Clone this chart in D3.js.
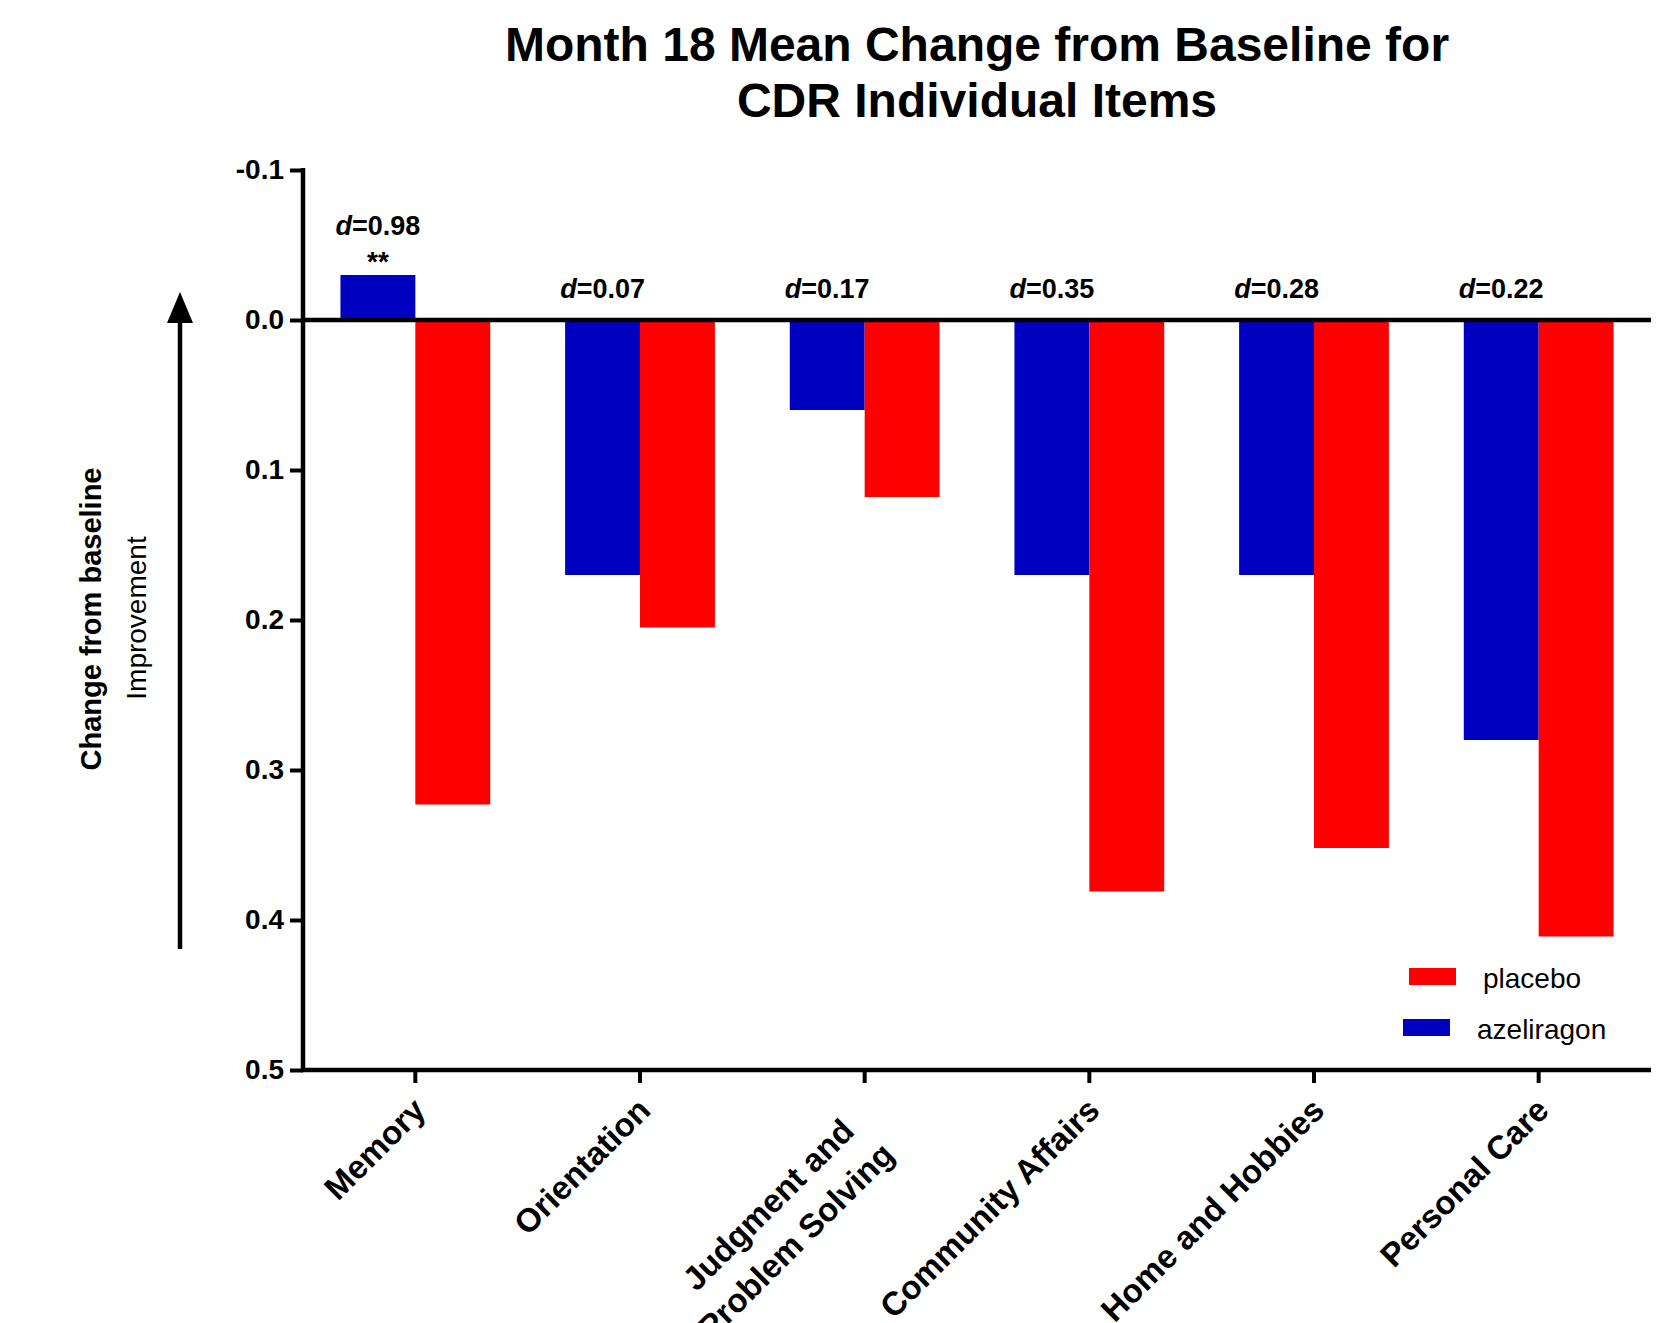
<!doctype html>
<html>
<head>
<meta charset="utf-8">
<script src="https://d3js.org/d3.v7.min.js" charset="utf-8"></script>
<style>
  body { margin: 0; background: #fff; }
  svg { font-family: "Liberation Sans", Arial, sans-serif; }
</style>
</head>
<body>
<svg width="1678" height="1323"></svg>
<script>

// CDR items, month 18 mean change (positive = worsening, axis is flipped)
var categories = ["Memory", "Orientation", "Judgment and\nProblem Solving", "Community Affairs", "Home and Hobbies", "Personal Care"];
var azeliragon = [-0.03, 0.17, 0.06, 0.17, 0.17, 0.28];
var placebo = [0.323, 0.205, 0.118, 0.381, 0.352, 0.411];
var effectSizes = ["0.98", "0.07", "0.17", "0.35", "0.28", "0.22"];
var stars = ["**", "", "", "", "", ""];
var yTicks = [-0.1, 0, 0.1, 0.2, 0.3, 0.4, 0.5];
var seriesNames = ["azeliragon", "placebo"];
var legendItems = ["placebo", "azeliragon"];

var colors = { azeliragon: "#0000c0", placebo: "#ff0000" };

var svg = d3.select("svg");

// note: "top" is taken by window.top, so use plot* names
var plotLeft = 303, plotRight = 1651, plotTop = 170, plotBottom = 1070;

var y = d3.scaleLinear().domain([-0.1, 0.5]).range([plotTop, plotBottom]);

var x0 = d3.scaleBand().domain(categories).range([plotLeft, plotRight]).padding(0);
var bw = x0.bandwidth();
var x1 = d3.scaleBand().domain(seriesNames).range([bw / 6, bw * 5 / 6]).padding(0);

var rows = categories.map(function(c, i) {
  return { cat: c, vals: [
    { key: "azeliragon", v: azeliragon[i] },
    { key: "placebo", v: placebo[i] }
  ], d: effectSizes[i], stars: stars[i] };
});

// bars
var groups = svg.append("g").selectAll("g")
  .data(rows)
  .join("g")
  .attr("transform", function(d) { return "translate(" + x0(d.cat) + ",0)"; });

groups.selectAll("rect")
  .data(function(d) { return d.vals; })
  .join("rect")
  .attr("x", function(d) { return x1(d.key); })
  .attr("width", x1.bandwidth())
  .attr("y", function(d) { return Math.min(y(0), y(d.v)); })
  .attr("height", function(d) { return Math.abs(y(d.v) - y(0)); })
  .attr("fill", function(d) { return colors[d.key]; });

// zero line
svg.append("line")
  .attr("x1", plotLeft).attr("x2", plotRight)
  .attr("y1", y(0)).attr("y2", y(0))
  .attr("stroke", "#000").attr("stroke-width", 4.5);

// effect size labels
groups.each(function(d) {
  var g = d3.select(this);
  var cx = x1("azeliragon") + x1.bandwidth() / 2;
  var barTop = Math.min(y(0), y(d.vals[0].v));
  var base = barTop - 22;
  if (d.stars) {
    g.append("text")
      .attr("x", cx).attr("y", barTop - 4)
      .attr("text-anchor", "middle")
      .attr("font-size", 28).attr("font-weight", "bold")
      .text(d.stars);
    base = barTop - 40;
  }
  var t = g.append("text")
    .attr("x", cx).attr("y", base)
    .attr("text-anchor", "middle")
    .attr("font-size", 27).attr("font-weight", "bold");
  t.append("tspan").attr("font-style", "italic").text("d");
  t.append("tspan").text("=" + d.d);
});

// y axis
var yAxis = d3.axisLeft(y)
  .tickValues(yTicks)
  .tickSize(13)
  .tickPadding(6)
  .tickFormat(function(d) { return d.toFixed(1); });

var ya = svg.append("g")
  .attr("transform", "translate(" + plotLeft + ",0)")
  .call(yAxis);
ya.select(".domain").remove();
ya.append("line").attr("x1", 0).attr("x2", 0).attr("y1", plotTop - 2).attr("y2", plotBottom + 2)
  .attr("stroke", "#000").attr("stroke-width", 4.5);
ya.selectAll(".tick line").attr("stroke", "#000").attr("stroke-width", 4);
ya.selectAll(".tick text")
  .attr("fill", "#000")
  .attr("font-size", 28)
  .attr("font-weight", "bold")
  .attr("font-family", "Liberation Sans, Arial, sans-serif");

// x axis
var xAxis = d3.axisBottom(x0).tickSize(13).tickFormat("");
var xa = svg.append("g")
  .attr("transform", "translate(0," + plotBottom + ")")
  .call(xAxis);
xa.select(".domain").remove();
xa.append("line").attr("x1", plotLeft - 2).attr("x2", plotRight).attr("y1", 0).attr("y2", 0)
  .attr("stroke", "#000").attr("stroke-width", 4.5);
xa.selectAll(".tick line").attr("stroke", "#000").attr("stroke-width", 4);

// rotated category labels (multi-line ones centred and nudged back a bit)
var lineH = 45;
xa.selectAll(".tick").each(function(c) {
  var lines = c.split("\n");
  var g = d3.select(this).append("g")
    .attr("transform", "translate(4,34) rotate(-45)");
  var texts = g.selectAll("text")
    .data(lines)
    .join("text")
    .attr("font-size", 33)
    .attr("font-weight", "bold")
    .attr("fill", "#000")
    .attr("font-family", "Liberation Sans, Arial, sans-serif")
    .attr("dy", "0.35em")
    .text(function(d) { return d; });
  var lens = [];
  texts.each(function() { lens.push(this.getComputedTextLength()); });
  var maxLen = d3.max(lens);
  var nudge = lines.length > 1 ? 12 : 0;
  texts
    .attr("text-anchor", "middle")
    .attr("x", function(d, i) { return -maxLen / 2 - nudge - i * 6; })
    .attr("y", function(d, i) { return i * lineH; });
});

// title
var title = svg.append("text")
  .attr("x", (plotLeft + plotRight) / 2)
  .attr("text-anchor", "middle")
  .attr("font-size", 48)
  .attr("font-weight", "bold");
title.append("tspan").attr("x", (plotLeft + plotRight) / 2).attr("y", 61)
  .text("Month 18 Mean Change from Baseline for");
title.append("tspan").attr("x", (plotLeft + plotRight) / 2).attr("y", 117)
  .text("CDR Individual Items");

// y axis titles
svg.append("text")
  .attr("transform", "translate(101,619) rotate(-90)")
  .attr("text-anchor", "middle")
  .attr("font-size", 29)
  .attr("font-weight", "bold")
  .text("Change from baseline");
svg.append("text")
  .attr("transform", "translate(146,618) rotate(-90)")
  .attr("text-anchor", "middle")
  .attr("font-size", 28)
  .text("Improvement");

// improvement arrow
svg.append("line")
  .attr("x1", 180).attr("x2", 180)
  .attr("y1", 949).attr("y2", 320)
  .attr("stroke", "#000").attr("stroke-width", 4.5);
svg.append("path")
  .attr("d", d3.line()([[167, 323], [180, 292], [193, 323]]) + "Z")
  .attr("fill", "#000");

// legend
var legend = svg.append("g").selectAll("g")
  .data(legendItems)
  .join("g")
  .attr("transform", function(d, i) { return "translate(" + (1409 - 6 * i) + "," + (968 + 51 * i) + ")"; });
legend.append("rect")
  .attr("width", 47).attr("height", 17)
  .attr("fill", function(d) { return colors[d]; });
legend.append("text")
  .attr("x", 74).attr("y", 20)
  .attr("font-size", 28)
  .text(function(d) { return d; });

</script>
</body>
</html>
